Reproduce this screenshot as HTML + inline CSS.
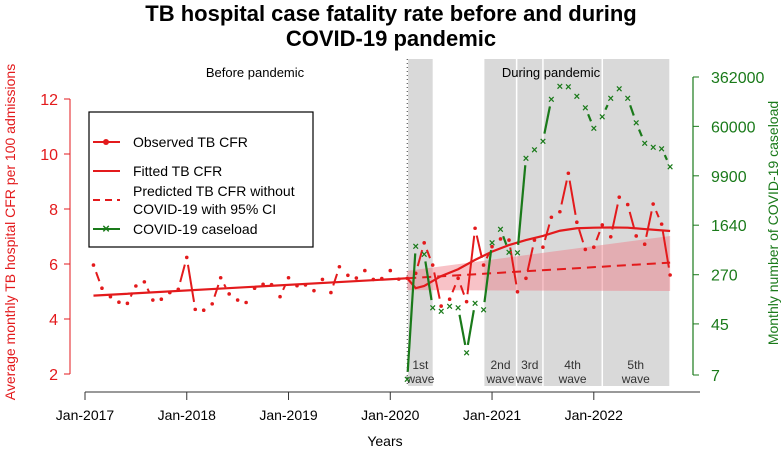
<!DOCTYPE html>
<html><head><meta charset="utf-8"><style>
body{margin:0;background:#fff;}
svg text{font-family:"Liberation Sans",Arial,sans-serif;}
</style></head><body>
<svg id="chart" width="783" height="456" viewBox="0 0 783 456" xmlns="http://www.w3.org/2000/svg">
<g id="bg"></g><g id="marks"></g><g id="axes"></g>
<text x="391" y="21" text-anchor="middle" font-size="22" font-weight="bold">TB hospital case fatality rate before and during</text>
<text x="391" y="46" text-anchor="middle" font-size="22" font-weight="bold">COVID-19 pandemic</text>
<text x="255" y="77" text-anchor="middle" font-size="13">Before pandemic</text>
<text x="551" y="77" text-anchor="middle" font-size="13">During pandemic</text>
<text x="385" y="446" text-anchor="middle" font-size="14">Years</text>
<text transform="translate(15,232) rotate(-90)" text-anchor="middle" font-size="14" fill="#e31a1c">Average monthly TB hospital CFR per 100 admissions</text>
<text transform="translate(778,223) rotate(-90)" text-anchor="middle" font-size="14" fill="#1a7a1a">Monthly number of COVID-19 caseload</text>
<g>
<rect x="89" y="112" width="224" height="135" fill="#fff" stroke="#000" stroke-width="1.2"/>
<line x1="93" y1="142" x2="120" y2="142" stroke="#e31a1c" stroke-width="2"/><circle cx="106" cy="142" r="3" fill="#e31a1c"/>
<text x="133" y="147" font-size="14">Observed TB CFR</text>
<line x1="93" y1="171" x2="120" y2="171" stroke="#e31a1c" stroke-width="2"/>
<text x="133" y="176" font-size="14">Fitted TB CFR</text>
<line x1="93" y1="200" x2="120" y2="200" stroke="#e31a1c" stroke-width="2" stroke-dasharray="7,5"/>
<text x="133" y="196" font-size="14">Predicted TB CFR without</text>
<text x="133" y="214" font-size="14">COVID-19 with 95% CI</text>
<line x1="93" y1="229" x2="120" y2="229" stroke="#1a7a1a" stroke-width="2"/>
<text x="106" y="233" text-anchor="middle" font-size="13" fill="#1a7a1a" font-weight="bold">×</text>
<text x="133" y="234" font-size="14">COVID-19 caseload</text>
</g>
</svg>
<script>
// month index m: 0 = Jan-2017
const obsMonths = [1,2,3,4,5,6,7,8,9,10,11,12,13,14,15,16,17,18,19,20,21,22,23,24,25,26,27,28,29,30,31,32,33,34,35,36,37,38,39,40,41,42,43,44,45,46,47,48,49,50,51,52,53,54,55,56,57,58,59,60,61,62,63,64,65,66,67,68,69];
const obsCFR = [5.96,5.12,4.81,4.61,4.57,5.2,5.35,4.69,4.72,4.96,5.08,6.24,4.35,4.32,4.55,5.5,4.91,4.69,4.6,5.12,5.26,5.25,4.81,5.5,5.21,5.24,5.03,5.44,4.96,5.9,5.59,5.49,5.76,5.44,5.47,5.76,5.45,5.48,5.66,6.77,5.96,4.47,4.72,5.48,4.63,7.30,5.96,6.63,6.91,6.87,4.99,5.48,6.87,6.61,7.70,7.90,9.30,7.52,6.53,6.61,7.42,6.99,8.43,8.16,7.02,6.72,8.18,7.45,5.60];
const fitMonths = [1,38,39,40,42,44,46,48,50,52,54,56,58,60,62,64,66,69];
const fitCFR = [4.85,5.48,5.12,5.20,5.56,5.81,6.15,6.45,6.69,6.87,7.02,7.21,7.30,7.32,7.33,7.32,7.27,7.20];
const predMonths = [38,69];
const predCFR = [5.48,6.05];
const ciUpper = [5.75,7.02];
const ciLower = [5.05,5.02];
const caseMonths = [38,39,40,41,42,43,44,45,46,47,48,49,50,51,52,53,54,55,56,57,58,59,60,61,62,63,64,65,66,67,68,69];
const caseload = [6,770,574,82,72,86,82,16,97,76,868,1415,623,610,19100,26000,35200,162000,262000,254000,181000,120000,56000,86000,167000,240000,167000,68700,32500,28500,27000,13800];
const yLeftTicks = [2,4,6,8,10,12];
const yRightTicks = [7,45,270,1640,9900,60000,362000];
const xTickLabels = ["Jan-2017","Jan-2018","Jan-2019","Jan-2020","Jan-2021","Jan-2022"];
const xTickMonths = [0,12,24,36,48,60];
const waveNames = ["1st","2nd","3rd","4th","5th"];
const waveStart = [38.1,47.1,50.9,54,61];
const waveEnd = [41,50.9,54,61,68.9];

const NS="http://www.w3.org/2000/svg";
const RED="#e31a1c", GREEN="#1a7a1a";
const X=m=>85+m*8.48;
const YL=v=>374-(v-2)*27.5;
const YR=v=>375-Math.log(v/7)/Math.log(362000/7)*298;
function mk(tag,attrs,parent){const e=document.createElementNS(NS,tag);for(const k in attrs)e.setAttribute(k,attrs[k]);parent.appendChild(e);return e;}
const bg=document.getElementById('bg'), marks=document.getElementById('marks'), axes=document.getElementById('axes');

for(let i=0;i<waveNames.length;i++){
  const r=mk('rect',{x:X(waveStart[i]),y:59,width:X(waveEnd[i])-X(waveStart[i]),height:327,fill:'#d9d9d9'},bg);
  
  
  if(i>1){mk('line',{x1:X(waveStart[i]),y1:59,x2:X(waveStart[i]),y2:386,stroke:'#fff','stroke-width':1.5},bg);}
  const cx=(X(waveStart[i])+X(waveEnd[i]))/2;
  const t1=mk('text',{x:cx,y:369,'text-anchor':'middle','font-size':12,fill:'#333'},bg);t1.textContent=waveNames[i];
  
  
  const t2=mk('text',{x:cx,y:383,'text-anchor':'middle','font-size':12,fill:'#333'},bg);t2.textContent='wave';
  
  
}
const dl=mk('line',{x1:X(38),y1:59,x2:X(38),y2:386,stroke:'#333','stroke-width':1,'stroke-dasharray':'1,3'},bg);



const band=mk('polygon',{points:[X(predMonths[0])+','+YL(ciUpper[0]),X(predMonths[1])+','+YL(ciUpper[1]),X(predMonths[1])+','+YL(ciLower[1]),X(predMonths[0])+','+YL(ciLower[0])].join(' '),fill:'rgba(240,120,130,0.45)'},marks);



let fp=fitMonths.map((m,i)=>X(m)+','+YL(fitCFR[i])).join(' ');
const fl=mk('polyline',{points:fp,fill:'none',stroke:RED,'stroke-width':2.2},marks);


const pl=mk('polyline',{points:predMonths.map((m,i)=>X(m)+','+YL(predCFR[i])).join(' '),fill:'none',stroke:RED,'stroke-width':2,'stroke-dasharray':'9,6'},marks);



function gapLines(xs,ys,color,gap,w,name){
  for(let i=0;i<xs.length-1;i++){
    const dx=xs[i+1]-xs[i],dy=ys[i+1]-ys[i],L=Math.hypot(dx,dy);
    if(L<2*gap+3)continue;
    const ux=dx/L,uy=dy/L;
    const s=mk('line',{x1:xs[i]+ux*gap,y1:ys[i]+uy*gap,x2:xs[i+1]-ux*gap,y2:ys[i+1]-uy*gap,stroke:color,'stroke-width':w},marks);
    
    
  }
}
const ox=obsMonths.map(X), oy=obsCFR.map(YL);
gapLines(ox,oy,RED,7.5,2,'observed-cfr-segment');
for(let i=0;i<ox.length;i++){
  const c=mk('circle',{cx:ox[i],cy:oy[i],r:1.8,fill:RED},marks);
  
  
}
const gx=caseMonths.map(X), gy=caseload.map(YR);
gapLines(gx,gy,GREEN,7.5,2.2,'caseload-segment');
for(let i=0;i<gx.length;i++){
  const t=mk('text',{x:gx[i],y:gy[i]+4,'text-anchor':'middle','font-size':11,'font-weight':'bold',fill:GREEN},marks);
  t.textContent='×';
  
  
}

mk('line',{x1:70,y1:YL(2),x2:70,y2:YL(12),stroke:RED,'stroke-width':1},axes);
yLeftTicks.forEach(v=>{
  mk('line',{x1:64,y1:YL(v),x2:70,y2:YL(v),stroke:RED},axes);
  const t=mk('text',{x:58,y:YL(v)+6,'text-anchor':'end','font-size':16,fill:RED},axes);t.textContent=v;
  
  
});
mk('line',{x1:693,y1:YR(7),x2:693,y2:YR(362000),stroke:GREEN,'stroke-width':1.2},axes);
yRightTicks.forEach(v=>{
  mk('line',{x1:693,y1:YR(v),x2:699,y2:YR(v),stroke:GREEN},axes);
  const t=mk('text',{x:711,y:YR(v)+6,'font-size':16,fill:GREEN},axes);t.textContent=v;
  
  
});
mk('line',{x1:X(0),y1:392,x2:700,y2:392,stroke:'#333'},axes);
xTickMonths.forEach((m,i)=>{
  mk('line',{x1:X(m),y1:392,x2:X(m),y2:400,stroke:'#333'},axes);
  const t=mk('text',{x:X(m),y:420,'text-anchor':'middle','font-size':14},axes);t.textContent=xTickLabels[i];
  
  
});
</script>
</body></html>
